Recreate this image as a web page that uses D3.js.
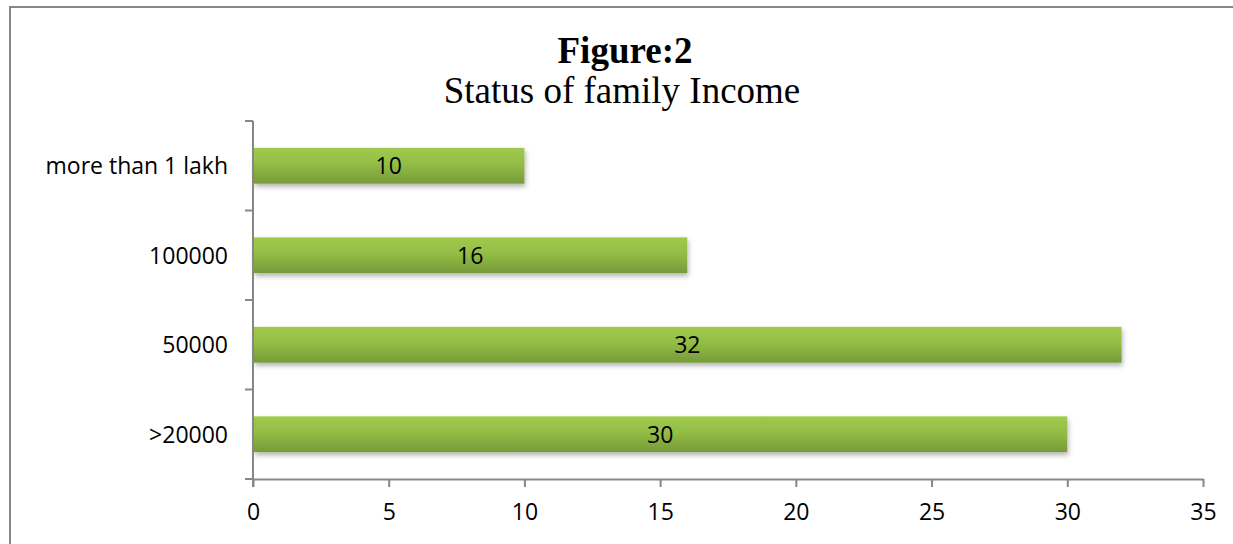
<!DOCTYPE html>
<html>
<head>
<meta charset="utf-8">
<script src="https://cdn.jsdelivr.net/npm/d3@7"></script>
<style>
  html, body { margin: 0; padding: 0; background: #fff; overflow: hidden; }
  svg { display: block; }
</style>
</head>
<body>
<svg id="chart" width="1233" height="544"></svg>
<script>
// Income bands (bottom to top) and respondent counts
const categories = [">20000", "50000", "100000", "more than 1 lakh"];
const values = [30, 32, 16, 10];
const xTicks = [0, 5, 10, 15, 20, 25, 30, 35];
const titleLines = ["Figure:2", "Status of family Income"];

const svg = d3.select("#chart");
const W = 1233, H = 544;
const plot = { left: 253, right: 1203, top: 121, bottom: 479 };

// Chart frame: top and left edges fall inside the page
svg.append("path")
  .attr("d", `M10,${H + 5} V7 H${W + 5}`)
  .attr("fill", "none").attr("stroke", "#878787").attr("stroke-width", 2);

const defs = svg.append("defs");
const grad = defs.append("linearGradient")
  .attr("id", "barGrad").attr("x1", 0).attr("y1", 0).attr("x2", 0).attr("y2", 1);
grad.append("stop").attr("offset", "0%").attr("stop-color", "#a0ca4c");
grad.append("stop").attr("offset", "45%").attr("stop-color", "#93bd45");
grad.append("stop").attr("offset", "100%").attr("stop-color", "#769a39");

const shadow = defs.append("filter").attr("id", "barShadow")
  .attr("x", "-5%").attr("y", "-30%").attr("width", "110%").attr("height", "170%");
shadow.append("feDropShadow")
  .attr("dx", 1).attr("dy", 3).attr("stdDeviation", 2.5)
  .attr("flood-color", "#000").attr("flood-opacity", 0.3);

const x = d3.scaleLinear().domain([0, 35]).range([plot.left, plot.right]);
const y = d3.scaleBand().domain(categories.slice().reverse())
  .range([plot.top, plot.bottom]).paddingInner(0.6).paddingOuter(0.3);
const yBand = d3.scaleBand().domain(categories.slice().reverse())
  .range([plot.top, plot.bottom]);

// Title
const serif = "'Liberation Serif', 'Times New Roman', serif";
svg.append("text")
  .attr("x", 625).attr("y", 63)
  .attr("text-anchor", "middle")
  .attr("font-family", serif)
  .attr("font-weight", "bold").attr("font-size", 37)
  .text(titleLines[0]);
svg.append("text")
  .attr("x", 622).attr("y", 103)
  .attr("text-anchor", "middle")
  .attr("font-family", serif)
  .attr("font-size", 37)
  .text(titleLines[1]);

const axisColor = "#878787";
const labelFont = "'Open Sans', Lato, sans-serif";
const labelSize = 23;

// Bars
const barData = categories.map((c, i) => ({ c, v: values[i] }));
const bars = svg.append("g");
bars.selectAll("rect")
  .data(barData)
  .join("rect")
  .attr("x", x(0) + 1)
  .attr("y", d => y(d.c))
  .attr("width", d => x(d.v) - x(0) - 1)
  .attr("height", y.bandwidth())
  .attr("fill", "url(#barGrad)")
  .attr("filter", "url(#barShadow)");

// Value labels centred on bars
bars.selectAll("text")
  .data(barData)
  .join("text")
  .attr("x", d => (x(0) + x(d.v)) / 2)
  .attr("y", d => y(d.c) + y.bandwidth() / 2)
  .attr("dy", "0.36em")
  .attr("text-anchor", "middle")
  .attr("font-family", labelFont).attr("font-size", labelSize)
  .attr("fill", "#000")
  .text(d => d.v);

// X axis
const xAxis = svg.append("g")
  .attr("transform", `translate(0,${plot.bottom})`)
  .call(d3.axisBottom(x).tickValues(xTicks).tickSize(8).tickPadding(17).tickSizeOuter(0));
xAxis.select(".domain").attr("stroke", axisColor).attr("stroke-width", 2);
xAxis.selectAll(".tick line").attr("stroke", axisColor).attr("stroke-width", 2);
xAxis.selectAll(".tick text")
  .attr("font-family", labelFont).attr("font-size", labelSize).attr("fill", "#000");

// Y axis: line with ticks at band boundaries
const yAxis = svg.append("g");
yAxis.append("line")
  .attr("x1", plot.left).attr("x2", plot.left)
  .attr("y1", plot.top).attr("y2", plot.bottom + 8)
  .attr("stroke", axisColor).attr("stroke-width", 2);
const boundaries = yBand.domain().map(c => yBand(c)).concat([plot.bottom]);
yAxis.selectAll("line.tick")
  .data(boundaries)
  .join("line").attr("class", "tick")
  .attr("x1", plot.left - 8).attr("x2", plot.left)
  .attr("y1", d => d).attr("y2", d => d)
  .attr("stroke", axisColor).attr("stroke-width", 2);

// Category labels
yAxis.selectAll("text")
  .data(categories)
  .join("text")
  .attr("x", 228)
  .attr("y", d => yBand(d) + yBand.bandwidth() / 2)
  .attr("dy", "0.36em")
  .attr("text-anchor", "end")
  .attr("font-family", labelFont).attr("font-size", labelSize)
  .attr("fill", "#000")
  .text(d => d);
</script>
</body>
</html>
